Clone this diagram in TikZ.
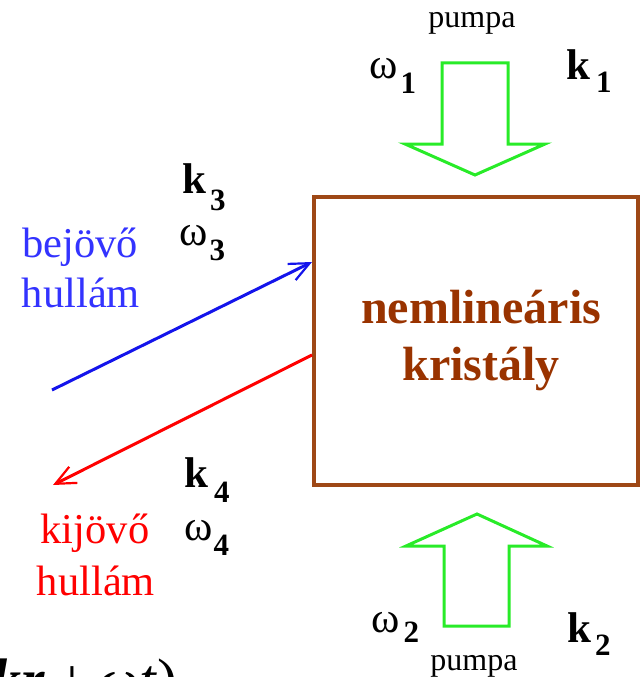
\documentclass[tikz,border=0pt]{standalone}
\usepackage{fontspec}
\setmainfont{Liberation Serif}
\usetikzlibrary{arrows.meta,calc}
\definecolor{boxbrown}{RGB}{158,72,22}
\definecolor{txtbrown}{RGB}{153,51,0}
\definecolor{inblue}{RGB}{20,20,235}
\definecolor{intext}{RGB}{51,51,255}
\definecolor{outred}{RGB}{255,0,0}
\definecolor{pumpgreen}{RGB}{40,235,40}
\newcommand\klab[3]{{\fontsize{43}{43}\selectfont\bfseries k}\hspace{#2}\raisebox{-#3}{\fontsize{31}{31}\selectfont\bfseries #1}}
\newcommand\wlab[3]{{\fontsize{43}{43}\selectfont ω}\hspace{#2}\raisebox{-#3}{\fontsize{31}{31}\selectfont\bfseries #1}}
\tikzset{
  lab/.style={inner sep=0pt, anchor=base west},
  wavetxt/.style={inner sep=0pt, anchor=base, font=\fontsize{42.5}{42.5}\selectfont},
  pumptxt/.style={inner sep=0pt, anchor=base, font=\fontsize{32}{32}\selectfont},
  pumparrow/.style={draw=pumpgreen, line width=3pt, line join=miter},
  wavearrow/.style={line width=3pt, -{Straight Barb[length=20pt,width=18pt,line width=2.2pt]}},
  crystal/.style={draw=boxbrown, line width=4pt, minimum width=324pt, minimum height=288pt, inner sep=0pt},
  crysttxt/.style={inner sep=0pt, anchor=base, text=txtbrown, font=\fontsize{48}{48}\selectfont\bfseries}
}
\begin{document}
\begin{tikzpicture}[x=1pt,y=-1pt]
\useasboundingbox (0,0) rectangle (642,677);
\clip (0,0) rectangle (642,677);
% crystal
\node[crystal] (box) at (476,341) {};
\node[crysttxt] (t1) at (481,323) {nemlineáris};
\node[crysttxt] (t2) at (481,380) {kristály};
% pump arrows
\draw[pumparrow] (442,63) -- (508,63) -- (508,144) -- (545,144) -- (475,175) -- (405,144) -- (442,144) -- cycle;
\draw[pumparrow] (444,626) -- (509,626) -- (509,546) -- (547,546) -- (477,514) -- (406,546) -- (444,546) -- cycle;
\node[pumptxt] (p1) at (472,28) {pumpa};
\node[pumptxt] (p2) at (474,670) {pumpa};
% labels
\node[lab] (w1) at (369,78) {\wlab{1}{3pt}{15pt}};
\node[lab] (k1) at (566,80) {\klab{1}{6pt}{13pt}};
\node[lab] (k3) at (182,193) {\klab{3}{4pt}{17pt}};
\node[lab] (w3) at (179,245) {\wlab{3}{2pt}{15pt}};
\node[lab] (k4) at (184,487) {\klab{4}{6pt}{15pt}};
\node[lab] (w4) at (184,540) {\wlab{4}{1pt}{15pt}};
\node[lab] (w2) at (371,632) {\wlab{2}{4pt}{10pt}};
\node[lab] (k2) at (567,642) {\klab{2}{4pt}{13pt}};
% wave texts
\node[wavetxt, text=intext] (in1) at (80,257) {bejövő};
\node[wavetxt, text=intext] (in2) at (81,307) {hullám};
\node[wavetxt, text=outred] (out1) at (95,543) {kijövő};
\node[wavetxt, text=outred] (out2) at (96,595) {hullám};
% wave arrows
\coordinate (bstart) at (52,390);
\coordinate (rend) at (53,485);
\draw[wavearrow, draw=inblue] (bstart) -- ([yshift=79pt]box.west);
\draw[wavearrow, draw=outred] ([yshift=-14pt]box.west) -- (rend);
% cropped formula (cut by the picture's lower edge, as in the reference)
\node[inner sep=0pt, anchor=base east, font=\fontsize{60}{60}\selectfont] (f) at (178,700) {\textbf{\textit{kr}}\hspace{10pt}+\hspace{8pt}\textit{ωt})};
\end{tikzpicture}
\end{document}
